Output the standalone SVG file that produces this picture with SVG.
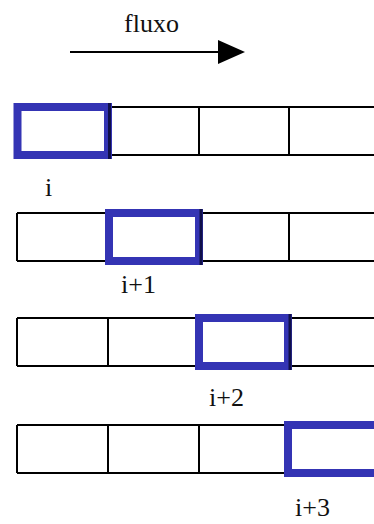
<svg xmlns="http://www.w3.org/2000/svg" width="374" height="524" viewBox="0 0 374 524">
<style>
.cell{fill:none;stroke:#000;stroke-width:2}
.sel{fill:none;stroke:#3434b4;stroke-width:8}
.edge{stroke:#10104a;stroke-width:3}
.lbl{font-family:"Liberation Serif",serif;font-size:26px;fill:#111}
</style>
<rect width="374" height="524" fill="#fff"/>
<g id="flow">
<text class="lbl" x="124" y="32">fluxo</text>
<line x1="70" y1="52" x2="222" y2="52" stroke="#000" stroke-width="2"/>
<polygon points="218,40 245,52 218,64" fill="#000"/>
</g>
<g id="row1">
<path class="cell" d="M17 107H376M17 155H376M17 107V155M108 107V155M199 107V155M289 107V155"/>
<rect class="sel" x="17.5" y="107" width="90.5" height="48"/>
<line class="edge" x1="109.5" y1="103" x2="109.5" y2="159"/>
<text class="lbl" x="45" y="196">i</text>
</g>
<g id="row2">
<path class="cell" d="M17 213H376M17 261H376M17 213V261M108 213V261M199 213V261M289 213V261"/>
<rect class="sel" x="109" y="213" width="90" height="48"/>
<line class="edge" x1="201" y1="209" x2="201" y2="265"/>
<text class="lbl" x="121" y="293">i+1</text>
</g>
<g id="row3">
<path class="cell" d="M17 318H376M17 366H376M17 318V366M108 318V366M199 318V366M289 318V366"/>
<rect class="sel" x="199" y="318" width="89" height="48"/>
<line class="edge" x1="290" y1="314" x2="290" y2="370"/>
<text class="lbl" x="209" y="406">i+2</text>
</g>
<g id="row4">
<path class="cell" d="M17 425H376M17 473H376M17 425V473M108 425V473M199 425V473M289 425V473"/>
<rect class="sel" x="288" y="425" width="100" height="48"/>
<text class="lbl" x="295" y="516">i+3</text>
</g>
</svg>
